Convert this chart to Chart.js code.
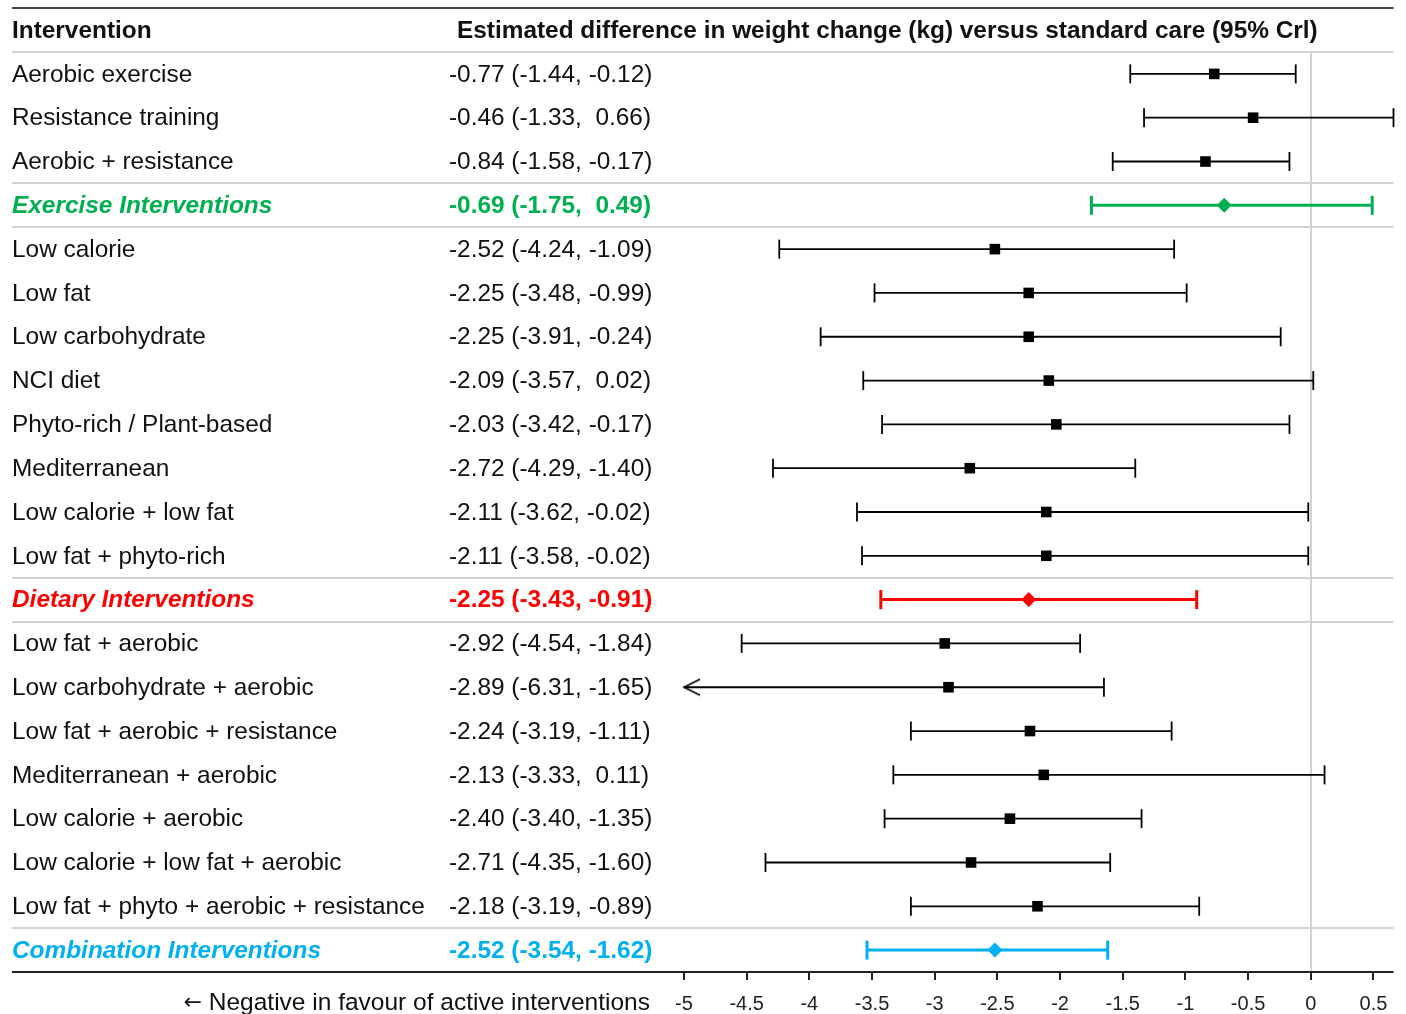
<!DOCTYPE html>
<html lang="en">
<head>
<meta charset="UTF-8">
<title>Weight change versus standard care</title>
<script src="https://cdn.jsdelivr.net/npm/chart.js"></script>
<style>
    html, body {
        margin: 0;
        padding: 0;
        background: #fff;
    }
    .chart-container {
        position: relative;
        width: 1406px;
        height: 1014px;
    }
</style>
</head>
<body>
<div class="chart-container">
    <canvas id="forestChart"></canvas>
</div>
<script>
    const interventions = [
        'Aerobic exercise', 'Resistance training', 'Aerobic + resistance',
        'Exercise Interventions',
        'Low calorie', 'Low fat', 'Low carbohydrate', 'NCI diet',
        'Phyto-rich / Plant-based', 'Mediterranean', 'Low calorie + low fat',
        'Low fat + phyto-rich',
        'Dietary Interventions',
        'Low fat + aerobic', 'Low carbohydrate + aerobic', 'Low fat + aerobic + resistance',
        'Mediterranean + aerobic', 'Low calorie + aerobic', 'Low calorie + low fat + aerobic',
        'Low fat + phyto + aerobic + resistance',
        'Combination Interventions'
    ];
    const estimates = [-0.77, -0.46, -0.84, -0.69, -2.52, -2.25, -2.25, -2.09, -2.03, -2.72, -2.11,
        -2.11, -2.25, -2.92, -2.89, -2.24, -2.13, -2.40, -2.71, -2.18, -2.52];
    const lowerCrI = [-1.44, -1.33, -1.58, -1.75, -4.24, -3.48, -3.91, -3.57, -3.42, -4.29, -3.62,
        -3.58, -3.43, -4.54, -6.31, -3.19, -3.33, -3.40, -4.35, -3.19, -3.54];
    const upperCrI = [-0.12, 0.66, -0.17, 0.49, -1.09, -0.99, -0.24, 0.02, -0.17, -1.40, -0.02,
        -0.02, -0.91, -1.84, -1.65, -1.11, 0.11, -1.35, -1.60, -0.89, -1.62];
    const summaryRows = ['Exercise Interventions', 'Dietary Interventions', 'Combination Interventions'];
    const xTicks = [-5, -4.5, -4, -3.5, -3, -2.5, -2, -1.5, -1, -0.5, 0, 0.5];

    const X_MIN = -5, X_MAX = 0.66;
    const FONT = "'Liberation Sans', Arial, sans-serif";
    const TEXT_SIZE = '24.4px ';
    const summaryColor = {
        'Exercise Interventions': '#00b050',
        'Dietary Interventions': '#ff0000',
        'Combination Interventions': '#00b0f0'
    };

    const rows = interventions.map((name, i) => i);
    const isSummary = i => summaryRows.includes(interventions[i]);
    const regular = rows.filter(i => !isSummary(i));
    const summary = rows.filter(isSummary);
    const colorOf = i => summaryColor[interventions[i]] || '#000';

    // positive bounds get an extra space so the columns line up
    const fmt = v => (v < 0 ? '' : ' ') + v.toFixed(2);
    const estLabel = i => estimates[i].toFixed(2) + ' (' + lowerCrI[i].toFixed(2) + ', ' + fmt(upperCrI[i]) + ')';

    // open chevron for intervals that run past the left end of the axis
    const chevron = document.createElement('canvas');
    chevron.width = 36;
    chevron.height = 20;
    (function () {
        const c = chevron.getContext('2d');
        c.strokeStyle = '#000';
        c.lineWidth = 1.6;
        c.beginPath();
        c.moveTo(34, 2);
        c.lineTo(18, 10);
        c.lineTo(34, 18);
        c.stroke();
    })();

    const capPoints = list => {
        const pts = [];
        list.forEach(i => {
            if (lowerCrI[i] >= X_MIN) pts.push({ x: lowerCrI[i], y: i, c: colorOf(i) });
            pts.push({ x: upperCrI[i], y: i, c: colorOf(i) });
        });
        return pts;
    };

    const tablePlugin = {
        id: 'forestTable',
        beforeDatasetsDraw(chart) {
            const { ctx, chartArea, scales: { y } } = chart;
            ctx.save();
            ctx.strokeStyle = '#d2d2d2';
            ctx.lineWidth = 2;
            const seps = [-0.5];
            summary.forEach(i => {
                seps.push(i - 0.5);
                if (i < rows.length - 1) seps.push(i + 0.5);
            });
            seps.forEach(v => {
                const py = Math.round(y.getPixelForValue(v));
                ctx.beginPath();
                ctx.moveTo(12, py);
                ctx.lineTo(chartArea.right, py);
                ctx.stroke();
            });
            ctx.restore();
        },
        afterDraw(chart) {
            const { ctx, chartArea, scales: { y } } = chart;
            ctx.save();
            // top rule and bottom axis rule
            ctx.strokeStyle = '#444';
            ctx.lineWidth = 2;
            ctx.beginPath();
            ctx.moveTo(12, chartArea.top - 44);
            ctx.lineTo(chartArea.right, chartArea.top - 44);
            ctx.stroke();
            ctx.strokeStyle = '#222';
            ctx.beginPath();
            ctx.moveTo(12, chartArea.bottom);
            ctx.lineTo(chartArea.right, chartArea.bottom);
            ctx.stroke();

            ctx.textBaseline = 'middle';
            ctx.textAlign = 'left';
            ctx.fillStyle = '#111';
            ctx.font = 'bold ' + TEXT_SIZE + FONT;
            const hy = chartArea.top - 21;
            ctx.fillText('Intervention', 12, hy);
            ctx.fillText('Estimated difference in weight change (kg) versus standard care (95% Crl)', 457, hy);

            rows.forEach(i => {
                const py = y.getPixelForValue(i) + 1;
                ctx.fillStyle = colorOf(i) === '#000' ? '#111' : colorOf(i);
                ctx.font = (isSummary(i) ? 'italic bold ' : '') + TEXT_SIZE + FONT;
                ctx.fillText(interventions[i], 12, py);
                ctx.font = (isSummary(i) ? 'bold ' : '') + TEXT_SIZE + FONT;
                ctx.fillText(estLabel(i), 449, py);
            });

            const by = chartArea.bottom + 31;
            ctx.fillStyle = '#111';
            ctx.font = '24.5px ' + FONT;
            ctx.textAlign = 'right';
            ctx.fillText('Negative in favour of active interventions', 650, by);
            ctx.font = "22px 'DejaVu Sans', sans-serif";
            ctx.fillText('\u2190', 202, by);
            ctx.restore();
        }
    };

    const forestChart = new Chart(document.getElementById('forestChart'), {
        type: 'scatter',
        data: {
            datasets: [
                {
                    data: regular.map(i => ({ x: estimates[i], y: i })),
                    pointStyle: 'rect',
                    pointRadius: 7.5,
                    backgroundColor: '#000',
                    borderWidth: 0,
                    clip: false,
                    order: 0
                },
                {
                    data: summary.map(i => ({ x: estimates[i], y: i })),
                    pointStyle: 'rectRot',
                    pointRadius: 7.5,
                    backgroundColor: summary.map(colorOf),
                    borderWidth: 0,
                    clip: false,
                    order: 0
                },
                {
                    data: capPoints(regular),
                    pointStyle: 'line',
                    rotation: 90,
                    pointRadius: 9.5,
                    borderColor: '#000',
                    borderWidth: 1.8,
                    clip: false,
                    order: 1
                },
                {
                    data: capPoints(summary),
                    pointStyle: 'line',
                    rotation: 90,
                    pointRadius: 9.5,
                    borderColor: ctx => ctx.raw ? ctx.raw.c : '#000',
                    borderWidth: 3,
                    clip: false,
                    order: 1
                },
                {
                    data: rows.filter(i => lowerCrI[i] < X_MIN).map(i => ({ x: X_MIN, y: i })),
                    pointStyle: chevron,
                    clip: false,
                    order: 1
                },
                {
                    type: 'bar',
                    indexAxis: 'y',
                    data: regular.map(i => ({ x: [lowerCrI[i], upperCrI[i]], y: i })),
                    backgroundColor: '#000',
                    grouped: false,
                    maxBarThickness: 1.8,
                    borderWidth: 0,
                    order: 2
                },
                {
                    type: 'bar',
                    indexAxis: 'y',
                    data: summary.map(i => ({ x: [lowerCrI[i], upperCrI[i]], y: i })),
                    backgroundColor: summary.map(colorOf),
                    grouped: false,
                    maxBarThickness: 3,
                    borderWidth: 0,
                    order: 2
                }
            ]
        },
        options: {
            responsive: true,
            maintainAspectRatio: false,
            animation: false,
            events: [],
            layout: {
                padding: { left: 684, right: 12, top: 52, bottom: 0 }
            },
            plugins: {
                legend: { display: false },
                tooltip: { enabled: false }
            },
            scales: {
                x: {
                    type: 'linear',
                    min: X_MIN,
                    max: X_MAX,
                    afterBuildTicks: scale => {
                        scale.ticks = xTicks.map(v => ({ value: v }));
                    },
                    afterFit: scale => {
                        scale.height = 42;
                    },
                    border: { display: false },
                    grid: {
                        color: ctx => ctx.tick && ctx.tick.value === 0 ? '#d2d2d2' : 'rgba(0,0,0,0)',
                        lineWidth: 2,
                        tickColor: '#222',
                        tickWidth: 2,
                        tickLength: 8
                    },
                    ticks: {
                        callback: v => String(v),
                        color: '#222',
                        padding: 12,
                        maxRotation: 0,
                        autoSkip: false,
                        font: { family: FONT, size: 20 }
                    }
                },
                y: {
                    type: 'linear',
                    min: -0.5,
                    max: 20.5,
                    reverse: true,
                    offset: false,
                    display: false
                }
            }
        },
        plugins: [tablePlugin]
    });
</script>
</body>
</html>
